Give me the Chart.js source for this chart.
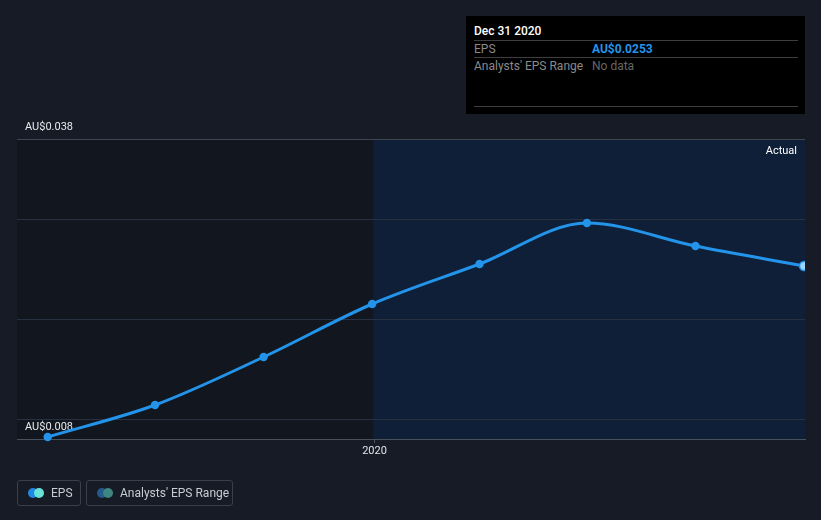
<!DOCTYPE html>
<html>
<head>
<meta charset="utf-8">
<script src="https://cdn.jsdelivr.net/npm/chart.js@4/dist/chart.umd.min.js"></script>
<style>
  html, body { margin: 0; padding: 0; background: #161b25; }
  body { width: 821px; height: 520px; position: relative; overflow: hidden; font-family: Roboto, "Noto Sans", sans-serif; }
  #wrap { position: absolute; left: 0; top: 0; width: 821px; height: 520px; }
  .tip { position: absolute; left: 466px; top: 16px; width: 339px; height: 98px; background: #000; }
  .tip .title { position: absolute; left: 8px; top: 8px; color: #fff; font-size: 12px; font-weight: 500; }
  .tip .sep { position: absolute; left: 8px; width: 324px; height: 1px; background: #3e3e3e; }
  .tip .lab { position: absolute; left: 8px; color: #8a8a8a; font-size: 12px; }
  .tip .val { position: absolute; left: 126px; font-size: 12px; }
  .legend { position: absolute; top: 480px; height: 24px; border: 1px solid #3a3f4a; border-radius: 3px; color: #c8ccd2; font-size: 12px; }
  .legend .dot { position: absolute; top: 7px; width: 10px; height: 10px; border-radius: 50%; }
  .legend .txt { position: absolute; top: 5px; }
</style>
</head>
<body>
<div id="wrap"><canvas id="c" width="821" height="520"></canvas></div>

<div class="tip">
  <div class="title">Dec 31 2020</div>
  <div class="sep" style="top:24px"></div>
  <div class="lab" style="top:26px">EPS</div>
  <div class="val" style="top:26px;color:#2394ea;font-weight:700">AU$0.0253</div>
  <div class="sep" style="top:41px"></div>
  <div class="lab" style="top:43px">Analysts' EPS Range</div>
  <div class="val" style="top:43px;color:#666">No data</div>
  <div class="sep" style="top:90px"></div>
</div>

<div class="legend" style="left:17px;width:62px">
  <div class="dot" style="left:10px;background:#1e88e5"></div>
  <div class="dot" style="left:16px;background:#67e3d9"></div>
  <div class="txt" style="left:33px">EPS</div>
</div>
<div class="legend" style="left:86px;width:145px">
  <div class="dot" style="left:10px;background:#245a8c"></div>
  <div class="dot" style="left:16px;background:#3f8580"></div>
  <div class="txt" style="left:33px">Analysts' EPS Range</div>
</div>

<script>
// ---- data ----
const dates = ["2019-03-31", "2019-06-30", "2019-09-30", "2019-12-31", "2020-03-31", "2020-06-30", "2020-09-30", "2020-12-31"];
const eps = [0.0082, 0.0114, 0.0162, 0.0215, 0.0255, 0.0296, 0.0273, 0.0253];
const yTickValues = [0.008, 0.01, 0.02, 0.03, 0.038];
const yTickLabels = { "0.038": "AU$0.038", "0.008": "AU$0.008" };
const xTickYears = [2020];
const xMinDate = "2019-03-05";
const xMaxDate = "2020-12-31T20:00:00";
const actualStart = "2020-01-01";
const actualLabel = "Actual";

const t = s => Date.parse(s.length > 10 ? s + "Z" : s + "T00:00:00Z");
const points = dates.map((d, i) => ({ x: t(d), y: eps[i] }));

const bgPlugin = {
  id: 'bg',
  beforeDraw(chart) {
    const { ctx, chartArea: a, scales: { x } } = chart;
    const split = x.getPixelForValue(t(actualStart));
    ctx.save();
    ctx.fillStyle = '#12161e';
    ctx.fillRect(a.left, a.top, split - a.left, a.bottom - a.top);
    ctx.fillStyle = '#0e1f37';
    ctx.fillRect(split, a.top, a.right - split, a.bottom - a.top);
    ctx.fillStyle = '#ffffff';
    ctx.font = '11px Roboto, sans-serif';
    ctx.textAlign = 'right';
    ctx.textBaseline = 'middle';
    ctx.fillText(actualLabel, a.right - 8, a.top + 12);
    ctx.restore();
  }
};

new Chart(document.getElementById('c'), {
  type: 'line',
  data: {
    datasets: [{
      label: 'EPS',
      data: points,
      borderColor: '#2394ea',
      borderWidth: 3,
      cubicInterpolationMode: 'monotone',
      pointRadius: points.map((p, i) => i === points.length - 1 ? 4.5 : 4.2),
      pointBackgroundColor: points.map((p, i) => i === points.length - 1 ? '#9fd6ff' : '#2394ea'),
      pointBorderColor: '#2394ea',
      pointBorderWidth: points.map((p, i) => i === points.length - 1 ? 1.5 : 0),
      clip: { left: 10, top: 10, right: 0, bottom: 10 }
    }]
  },
  options: {
    responsive: false,
    animation: false,
    events: [],
    layout: { padding: { left: 0, right: 16, top: 139, bottom: 0 } },
    plugins: { legend: { display: false }, tooltip: { enabled: false } },
    scales: {
      x: {
        type: 'linear',
        min: t(xMinDate),
        max: t(xMaxDate),
        afterBuildTicks: s => { s.ticks = xTickYears.map(y => ({ value: t(y + "-01-02") })); },
        afterFit: s => { s.height = 81; },
        ticks: {
          callback: v => String(new Date(v).getUTCFullYear()),
          color: '#e0e3e8',
          font: { family: 'Roboto', size: 11 },
          padding: 2,
          maxRotation: 0
        },
        grid: { drawOnChartArea: false, drawTicks: true, tickLength: 4, color: '#4a505c' },
        border: { display: true, color: '#4a505c', width: 1 }
      },
      y: {
        type: 'linear',
        min: 0.008,
        max: 0.038,
        afterBuildTicks: s => { s.ticks = yTickValues.map(v => ({ value: v })); },
        afterFit: s => { s.width = 17; },
        ticks: {
          mirror: true,
          padding: 8,
          labelOffset: -12,
          color: '#e6e8ec',
          font: { family: 'Roboto', size: 11 },
          callback: v => yTickLabels[String(v)] || ''
        },
        grid: {
          drawTicks: false,
          color: c => (c.tick && c.tick.value === 0.038) ? '#3f4552' : '#283142'
        },
        border: { display: false }
      }
    }
  },
  plugins: [bgPlugin]
});
</script>
</body>
</html>
